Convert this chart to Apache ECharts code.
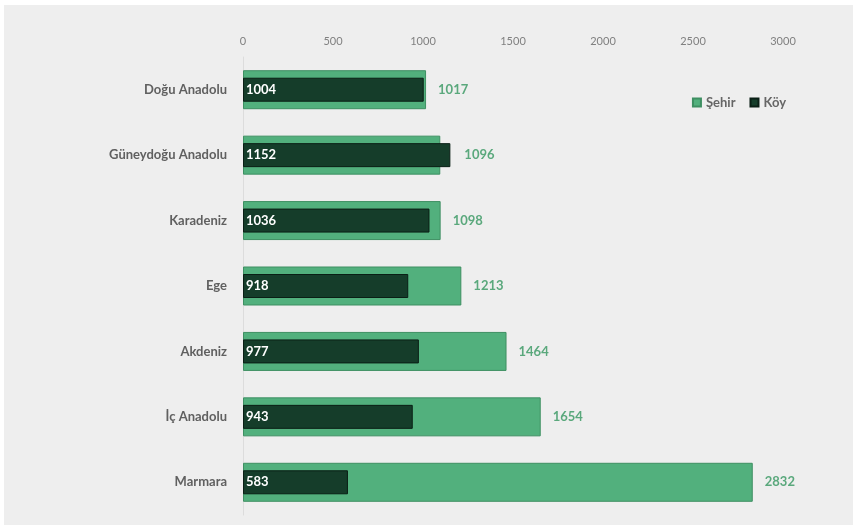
<!DOCTYPE html>
<html><head><meta charset="utf-8">
<script src="https://cdn.jsdelivr.net/npm/echarts@6/dist/echarts.min.js"></script>
<style>html,body{margin:0;padding:0;background:#fff;}#c{position:absolute;left:4px;top:5px;width:849px;height:520px;}</style>
</head><body><div id="c"></div>
<script>
const categories = ['Doğu Anadolu','Güneydoğu Anadolu','Karadeniz','Ege','Akdeniz','İç Anadolu','Marmara'];
const sehir = [1017,1096,1098,1213,1464,1654,2832];
const koy = [1004,1152,1036,918,977,943,583];
const xTicks = [0,500,1000,1500,2000,2500,3000];

const chart = echarts.init(document.getElementById('c'));
const font = 'Lato, "Open Sans", sans-serif';
// Şehir labels sit beyond whichever bar is longer
const sehirData = sehir.map((v,i)=> koy[i] > v
  ? {value:v, label:{distance: 14 + (koy[i]-v)*540/3000}}
  : v);
chart.setOption({
  backgroundColor:'#eeeeee',
  animation:false,
  legend:{
    right:62, top:86, itemWidth:8, itemHeight:8, itemGap:14, icon:'rect',
    textStyle:{color:'#666', fontFamily:font, fontSize:13, fontWeight:'bold'},
    data:['Şehir','Köy']
  },
  grid:{left:239, right:70, top:52, bottom:10, containLabel:false},
  xAxis:{type:'value', position:'top', min:xTicks[0], max:xTicks[xTicks.length-1], interval:500,
    axisLine:{show:false}, axisTick:{show:false}, splitLine:{show:false},
    axisLabel:{color:'#808080', fontFamily:font, fontSize:11, margin:10, formatter:v=>String(v)}},
  yAxis:[
    {type:'category', data:categories, inverse:true,
     axisLine:{show:true, lineStyle:{color:'#dcdcdc'}}, axisTick:{show:false},
     axisLabel:{color:'#606060', fontFamily:font, fontSize:13, fontWeight:'bold', margin:16}},
    {type:'category', data:categories, inverse:true, show:false}
  ],
  series:[
    {name:'Şehir', type:'bar', yAxisIndex:0, data:sehirData, barWidth:39,
     itemStyle:{color:'#52b07d', borderColor:'#3e8f62', borderWidth:1},
     label:{show:true, position:'right', distance:12, color:'#5aa87c', fontFamily:font, fontSize:13, fontWeight:'bold'}},
    {name:'Köy', type:'bar', yAxisIndex:1, data:koy, barWidth:24, z:3,
     itemStyle:{color:'#153d2a', borderColor:'#0a1f15', borderWidth:1},
     label:{show:true, position:'insideLeft', distance:3, color:'#ffffff', fontFamily:font, fontSize:13, fontWeight:'bold'}}
  ]
});
</script></body></html>
